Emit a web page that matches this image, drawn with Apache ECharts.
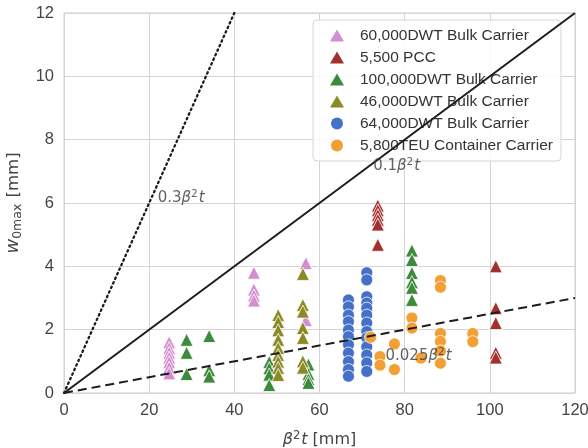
<!DOCTYPE html>
<html>
<head>
<meta charset="utf-8">
<script src="https://cdn.jsdelivr.net/npm/echarts@6/dist/echarts.min.js"></script>
<style>
  html, body { margin: 0; padding: 0; background: #ffffff; }
  #chart { width: 588px; height: 448px; }
</style>
</head>
<body>
<div id="chart"></div>
<script>
// Deflection w0max against beta^2 t for the surveyed ships
const shipNames = [
  '60,000DWT Bulk Carrier',
  '5,500 PCC',
  '100,000DWT Bulk Carrier',
  '46,000DWT Bulk Carrier',
  '64,000DWT Bulk Carrier',
  '5,800TEU Container Carrier'
];
const shipColors = ['#d38ed0', '#a3302f', '#3c8a3c', '#8c8a26', '#4470c8', '#f2a035'];
const shipSymbols = ['triangle', 'triangle', 'triangle', 'triangle', 'circle', 'circle'];

const bulk60k = [
  [24.7, 1.6], [24.7, 1.42], [24.7, 1.27], [24.7, 1.12], [24.7, 0.97], [24.7, 0.8], [24.7, 0.62],
  [44.6, 3.8], [44.6, 3.27], [44.6, 3.08], [44.6, 2.92],
  [56.8, 4.1], [56.8, 2.3]
];
const pcc5500 = [
  [73.7, 5.92], [73.7, 5.77], [73.7, 5.62], [73.7, 5.47], [73.7, 5.32], [73.7, 4.68],
  [101.4, 4.0], [101.4, 2.68], [101.4, 2.21], [101.4, 1.27], [101.4, 1.12]
];
const bulk100k = [
  [28.8, 1.68], [28.8, 1.27], [28.8, 0.6],
  [34.1, 1.8], [34.1, 0.72], [34.1, 0.52],
  [48.2, 0.98], [48.2, 0.78], [48.2, 0.58], [48.2, 0.25],
  [57.4, 0.9], [57.4, 0.6], [57.4, 0.44], [57.4, 0.32],
  [81.7, 4.5], [81.7, 4.2], [81.7, 3.79], [81.7, 3.5], [81.7, 3.32], [81.7, 2.94]
];
const bulk46k = [
  [50.3, 2.46], [50.3, 2.24], [50.3, 1.98], [50.3, 1.68], [50.3, 1.42], [50.3, 1.2],
  [50.3, 0.99], [50.3, 0.79], [50.3, 0.57],
  [56.1, 3.76], [56.1, 2.78], [56.1, 2.57], [56.1, 2.05], [56.1, 1.74], [56.1, 1.0], [56.1, 0.8]
];
const bulk64k = [
  [66.8, 2.94], [66.8, 2.72], [66.8, 2.46], [66.8, 2.25], [66.8, 1.99], [66.8, 1.78],
  [66.8, 1.52], [66.8, 1.26], [66.8, 0.99], [66.8, 0.74], [66.8, 0.53],
  [71.1, 3.8], [71.1, 3.57], [71.1, 3.04], [71.1, 2.84], [71.1, 2.68], [71.1, 2.46],
  [71.1, 2.21], [71.1, 1.94], [71.1, 1.74], [71.1, 1.46], [71.1, 1.2], [71.1, 0.95], [71.1, 0.68]
];
const teu5800 = [
  [72.0, 1.76], [74.2, 1.15], [74.2, 0.88], [77.6, 1.55], [77.6, 0.74],
  [81.7, 2.37], [81.7, 2.05], [83.8, 1.1],
  [88.4, 3.55], [88.4, 3.34], [88.4, 1.88], [88.4, 1.63], [88.4, 1.33], [88.4, 0.94],
  [96.0, 1.88], [96.0, 1.62]
];
const shipData = [bulk60k, pcc5500, bulk100k, bulk46k, bulk64k, teu5800];

// Reference lines w = k * beta^2 t
const slopes = [0.3, 0.1, 0.025];
const slopeEnds = [40, 120, 120];
const slopeStyles = ['dotted', 'solid', 'dashed'];
const slopeLabels = [['0.3', 22.0, 6.15], ['0.1', 72.6, 7.15], ['0.025', 75.5, 1.15]];

const xTicks = [0, 20, 40, 60, 80, 100, 120];
const yTicks = [0, 2, 4, 6, 8, 10, 12];

const chart = echarts.init(document.getElementById('chart'), null, { renderer: 'canvas' });

const mathFont = '"DejaVu Sans", sans-serif';
const uiFont = '"Liberation Sans", Arial, sans-serif';

const series = [];
shipData.forEach((pts, i) => {
  series.push({
    name: shipNames[i],
    type: 'scatter',
    data: pts,
    symbol: shipSymbols[i],
    symbolSize: shipSymbols[i] === 'circle' ? 12 : 13,
    itemStyle: { color: shipColors[i], borderColor: '#ffffff', borderWidth: 0.8, opacity: 1 },
    z: 2 + i * 0.01
  });
});

slopes.forEach((k, i) => {
  const dashType = slopeStyles[i] === 'dotted' ? [1.5, 3.5] : (slopeStyles[i] === 'dashed' ? [9, 5] : 'solid');
  series.push({
    type: 'line',
    data: [[0, 0], [slopeEnds[i], k * slopeEnds[i]]],
    showSymbol: false,
    silent: true,
    lineStyle: {
      color: '#1c1c1c',
      width: slopeStyles[i] === 'dotted' ? 2.3 : 2,
      type: dashType,
      cap: slopeStyles[i] === 'dotted' ? 'round' : 'butt'
    },
    z: 5
  });
});

// Text labels for the reference lines
series.push({
  type: 'scatter',
  silent: true,
  symbolSize: 0,
  data: slopeLabels.map(l => ({ value: [l[1], l[2]], coef: l[0] })),
  label: {
    show: true,
    position: 'right',
    distance: 0,
    formatter: p => '{n|' + p.data.coef + '}{i|β}{s|2}{i|t}',
    rich: {
      n: { fontFamily: mathFont, fontSize: 15, color: '#3a3a3a' },
      i: { fontFamily: mathFont, fontSize: 15, fontStyle: 'italic', color: '#3a3a3a' },
      s: { fontFamily: mathFont, fontSize: 10.5, color: '#3a3a3a', verticalAlign: 'top', padding: [0, 1, 8, 0] }
    }
  },
  z: 6
});

chart.setOption({
  animation: false,
  backgroundColor: '#ffffff',
  grid: {
    left: 64, right: 13, top: 13, bottom: 55,
    outerBoundsMode: 'none',
    containLabel: false,
    show: true, borderColor: '#cfcfcf', borderWidth: 1
  },
  legend: {
    data: shipNames,
    orient: 'vertical',
    left: 313,
    top: 20,
    itemWidth: 14,
    itemHeight: 12,
    itemGap: 5,
    padding: [7, 8, 7, 17],
    backgroundColor: 'rgba(255,255,255,0.85)',
    borderColor: '#d6d6d6',
    borderWidth: 1,
    borderRadius: 4,
    textStyle: { fontFamily: uiFont, fontSize: 15.5, lineHeight: 17, color: '#333333', padding: [0, 0, 0, 11] },
    itemStyle: { borderWidth: 0 }
  },
  xAxis: {
    type: 'value',
    min: xTicks[0],
    max: xTicks[xTicks.length - 1],
    interval: 20,
    axisLine: { show: false },
    axisTick: { show: false },
    splitLine: { lineStyle: { color: '#d4d4d4', width: 1 } },
    axisLabel: { fontFamily: uiFont, fontSize: 16.5, color: '#444444', margin: 9 },
    name: '{i|β}{s|2}{i|t}{n| [mm]}',
    nameLocation: 'middle',
    nameGap: 37,
    nameTextStyle: {
      rich: {
        n: { fontFamily: mathFont, fontSize: 16, color: '#444444' },
        i: { fontFamily: mathFont, fontSize: 16, fontStyle: 'italic', color: '#444444' },
        s: { fontFamily: mathFont, fontSize: 11.5, color: '#444444', verticalAlign: 'top', padding: [0, 1, 8, 0] }
      }
    }
  },
  yAxis: {
    type: 'value',
    min: yTicks[0],
    max: yTicks[yTicks.length - 1],
    interval: 2,
    axisLine: { show: false },
    axisTick: { show: false },
    splitLine: { lineStyle: { color: '#d4d4d4', width: 1 } },
    axisLabel: { fontFamily: uiFont, fontSize: 16.5, color: '#444444', margin: 10 },
    name: '{i|w}{s|0max}{n| [mm]}',
    nameLocation: 'middle',
    nameRotate: 90,
    nameGap: 36,
    nameTextStyle: {
      rich: {
        n: { fontFamily: mathFont, fontSize: 16.5, color: '#444444' },
        i: { fontFamily: mathFont, fontSize: 18, fontStyle: 'italic', color: '#444444' },
        s: { fontFamily: mathFont, fontSize: 12.5, color: '#444444', verticalAlign: 'bottom', padding: [9, 1, 0, 0] }
      }
    }
  },
  series: series
});
</script>
</body>
</html>
